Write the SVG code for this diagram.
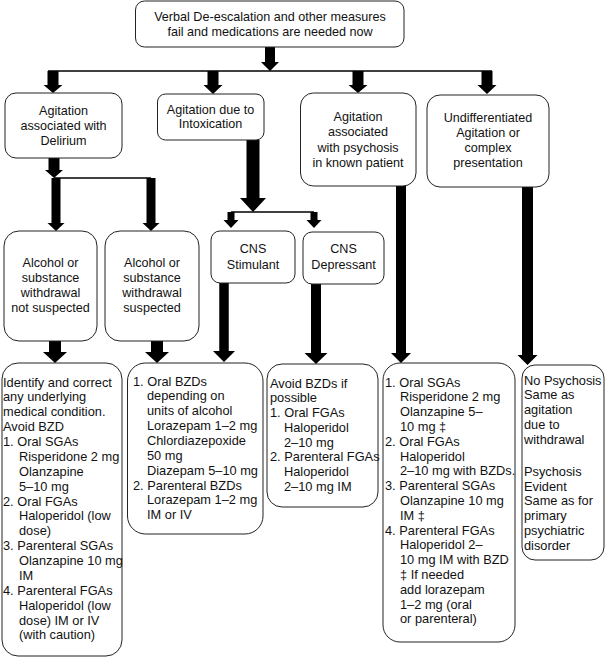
<svg xmlns="http://www.w3.org/2000/svg" width="606" height="658" viewBox="0 0 606 658">
<style>
.box{fill:#fff;stroke:#222;stroke-width:1}
.t{font-family:"Liberation Sans",Arial,sans-serif;font-size:12.6px;fill:#111}
.b{font-size:12.8px}
.c{text-anchor:middle}
.arr{fill:#000}
.ln{stroke:#000;stroke-width:1.3;fill:none}
</style>
<rect width="606" height="658" fill="#fff"/>
<g id="connectors">
<path class="arr" d="M265,47 H275 V62 H279 L270,71 L261,62 H265 Z"/>
<line class="ln" x1="48" y1="71" x2="492" y2="71"/>
<path class="arr" d="M47.5,71 H58.5 V85 H62.5 L53,93 L43.5,85 H47.5 Z"/>
<path class="arr" d="M207.5,71 H218.5 V85 H222.5 L213,94 L203.5,85 H207.5 Z"/>
<path class="arr" d="M352.5,71 H363.5 V85 H367.5 L358,93 L348.5,85 H352.5 Z"/>
<path class="arr" d="M481.5,71 H492.5 V85 H496.5 L487,94 L477.5,85 H481.5 Z"/>
<path class="arr" d="M246.5,140 H259.5 V198 H266 L253,212 L240,198 H246.5 Z"/>
<line class="ln" x1="231" y1="212" x2="314" y2="212"/>
<path class="arr" d="M227.5,212 H234.5 V220 H238.5 L231,228 L223.5,220 H227.5 Z"/>
<path class="arr" d="M310.5,212 H317.5 V220 H321.5 L314,228 L306.5,220 H310.5 Z"/>
<path class="arr" d="M48.5,158 H59.5 V170 H63 L54,178 L45,170 H48.5 Z"/>
<line class="ln" x1="54" y1="178" x2="151" y2="178"/>
<path class="arr" d="M51.5,178 H60.5 V223 H64.5 L56,231 L47.5,223 H51.5 Z"/>
<path class="arr" d="M146.5,178 H155.5 V223 H159.5 L151,231 L142.5,223 H146.5 Z"/>
<path class="arr" d="M49,341 H61 V352 H67 L55,363 L43,352 H49 Z"/>
<path class="arr" d="M151,341 H163 V352 H169 L157,363 L145,352 H151 Z"/>
<path class="arr" d="M219.25,283 H228.75 V351 H235 L224,362 L213,351 H219.25 Z"/>
<path class="arr" d="M311,284 H321 V353 H327.5 L316,364 L304.5,353 H311 Z"/>
<path class="arr" d="M396,186 H406 V353 H411 L401,363 L391,353 H396 Z"/>
<path class="arr" d="M522,187 H533 V355 H537.5 L527.5,365 L517.5,355 H522 Z"/>
</g>
<g id="n-top">
<rect class="box" x="135.5" y="1" width="268.5" height="46" rx="9"/>
<text class="t c"><tspan x="270" y="20.5">Verbal De-escalation and other measures</tspan><tspan x="270" y="35.5">fail and medications are needed now</tspan></text>
</g>
<g id="n-delirium">
<rect class="box" x="5" y="93" width="117" height="65" rx="11"/>
<text class="t c"><tspan x="63.5" y="114.5">Agitation</tspan><tspan x="63.5" y="129.5">associated with</tspan><tspan x="63.5" y="144.5">Delirium</tspan></text>
</g>
<g id="n-intox">
<rect class="box" x="157.5" y="94" width="106.5" height="46" rx="8"/>
<text class="t c"><tspan x="210.5" y="113.5">Agitation due to</tspan><tspan x="210.5" y="128">Intoxication</tspan></text>
</g>
<g id="n-psychosis">
<rect class="box" x="300.5" y="93" width="115.5" height="93" rx="13"/>
<text class="t c"><tspan x="358" y="120.5">Agitation</tspan><tspan x="358" y="136">associated</tspan><tspan x="358" y="151.5">with psychosis</tspan><tspan x="358" y="166.5">in known patient</tspan></text>
</g>
<g id="n-undiff">
<rect class="box" x="427" y="95" width="122" height="92" rx="13"/>
<text class="t c"><tspan x="488" y="121.5">Undifferentiated</tspan><tspan x="488" y="137">Agitation or</tspan><tspan x="488" y="152">complex</tspan><tspan x="488" y="167">presentation</tspan></text>
</g>
<g id="n-notsusp">
<rect class="box" x="4" y="231" width="93" height="110" rx="15"/>
<text class="t c"><tspan x="50.5" y="266.5">Alcohol or</tspan><tspan x="50.5" y="282">substance</tspan><tspan x="50.5" y="297">withdrawal</tspan><tspan x="50.5" y="311.5">not suspected</tspan></text>
</g>
<g id="n-susp">
<rect class="box" x="105" y="231" width="94" height="110" rx="15"/>
<text class="t c"><tspan x="152" y="266.5">Alcohol or</tspan><tspan x="152" y="282">substance</tspan><tspan x="152" y="297">withdrawal</tspan><tspan x="152" y="311.5">suspected</tspan></text>
</g>
<g id="n-stim">
<rect class="box" x="211" y="231" width="84" height="52" rx="9"/>
<text class="t c"><tspan x="253" y="252.5">CNS</tspan><tspan x="253" y="268.5">Stimulant</tspan></text>
</g>
<g id="n-dep">
<rect class="box" x="303" y="232" width="81" height="52" rx="9"/>
<text class="t c"><tspan x="343.5" y="253">CNS</tspan><tspan x="343.5" y="268.5">Depressant</tspan></text>
</g>
<g id="n-treatA">
<rect class="box" x="2" y="363" width="120" height="293" rx="16"/>
<text class="t b"><tspan x="3" y="386.5">Identify and correct</tspan><tspan x="3" y="401.4">any underlying</tspan><tspan x="3" y="416.2">medical condition.</tspan><tspan x="3" y="431.1">Avoid BZD</tspan><tspan x="3" y="446">1. Oral SGAs</tspan><tspan x="19" y="460.9">Risperidone 2 mg</tspan><tspan x="19" y="475.8">Olanzapine</tspan><tspan x="19" y="490.6">5–10 mg</tspan><tspan x="3" y="505.5">2. Oral FGAs</tspan><tspan x="19" y="520.4">Haloperidol (low</tspan><tspan x="19" y="535.3">dose)</tspan><tspan x="3" y="550.2">3. Parenteral SGAs</tspan><tspan x="19" y="565">Olanzapine 10 mg</tspan><tspan x="19" y="579.9">IM</tspan><tspan x="3" y="594.8">4. Parenteral FGAs</tspan><tspan x="19" y="609.7">Haloperidol (low</tspan><tspan x="19" y="624.6">dose) IM or IV</tspan><tspan x="19" y="639.4">(with caution)</tspan></text>
</g>
<g id="n-treatB">
<rect class="box" x="127.5" y="363" width="135.5" height="171" rx="18"/>
<text class="t b"><tspan x="133" y="385.5">1. Oral BZDs</tspan><tspan x="147" y="400.4">depending on</tspan><tspan x="147" y="415.2">units of alcohol</tspan><tspan x="147" y="430.1">Lorazepam 1–2 mg</tspan><tspan x="147" y="444.9">Chlordiazepoxide</tspan><tspan x="147" y="459.8">50 mg</tspan><tspan x="147" y="474.6">Diazepam 5–10 mg</tspan><tspan x="133" y="489.5">2. Parenteral BZDs</tspan><tspan x="147" y="504.3">Lorazepam 1–2 mg</tspan><tspan x="147" y="519.2">IM or IV</tspan></text>
</g>
<g id="n-treatC">
<rect class="box" x="267" y="364" width="111" height="143" rx="15"/>
<text class="t b"><tspan x="270" y="387.5">Avoid BZDs if</tspan><tspan x="270" y="402.3">possible</tspan><tspan x="270" y="417">1. Oral FGAs</tspan><tspan x="284" y="431.8">Haloperidol</tspan><tspan x="284" y="446.5">2–10 mg</tspan><tspan x="270" y="461.3">2. Parenteral FGAs</tspan><tspan x="284" y="476">Haloperidol</tspan><tspan x="284" y="490.8">2–10 mg IM</tspan></text>
</g>
<g id="n-treatD">
<rect class="box" x="383" y="363" width="132" height="279" rx="17"/>
<text class="t b"><tspan x="385" y="386.5">1. Oral SGAs</tspan><tspan x="400" y="401.3">Risperidone 2 mg</tspan><tspan x="400" y="416.1">Olanzapine 5–</tspan><tspan x="400" y="430.9">10 mg ‡</tspan><tspan x="385" y="445.7">2. Oral FGAs</tspan><tspan x="400" y="460.5">Haloperidol</tspan><tspan x="400" y="475.3">2–10 mg with BZDs.</tspan><tspan x="385" y="490.1">3. Parenteral SGAs</tspan><tspan x="400" y="504.9">Olanzapine 10 mg</tspan><tspan x="400" y="519.7">IM ‡</tspan><tspan x="385" y="534.5">4. Parenteral FGAs</tspan><tspan x="400" y="549.3">Haloperidol 2–</tspan><tspan x="400" y="564.1">10 mg IM with BZD</tspan><tspan x="400" y="578.9">‡ If needed</tspan><tspan x="400" y="593.7">add lorazepam</tspan><tspan x="400" y="608.5">1–2 mg (oral</tspan><tspan x="400" y="623.3">or parenteral)</tspan></text>
</g>
<g id="n-treatE">
<rect class="box" x="522" y="365" width="82" height="195" rx="13"/>
<text class="t b"><tspan x="524" y="384.5">No Psychosis</tspan><tspan x="524" y="399.4">Same as</tspan><tspan x="524" y="414.3">agitation</tspan><tspan x="524" y="429.2">due to</tspan><tspan x="524" y="444.1">withdrawal</tspan><tspan x="524" y="476">Psychosis</tspan><tspan x="524" y="490.7">Evident</tspan><tspan x="524" y="505.4">Same as for</tspan><tspan x="524" y="520.1">primary</tspan><tspan x="524" y="534.8">psychiatric</tspan><tspan x="524" y="549.5">disorder</tspan></text>
</g>
</svg>
